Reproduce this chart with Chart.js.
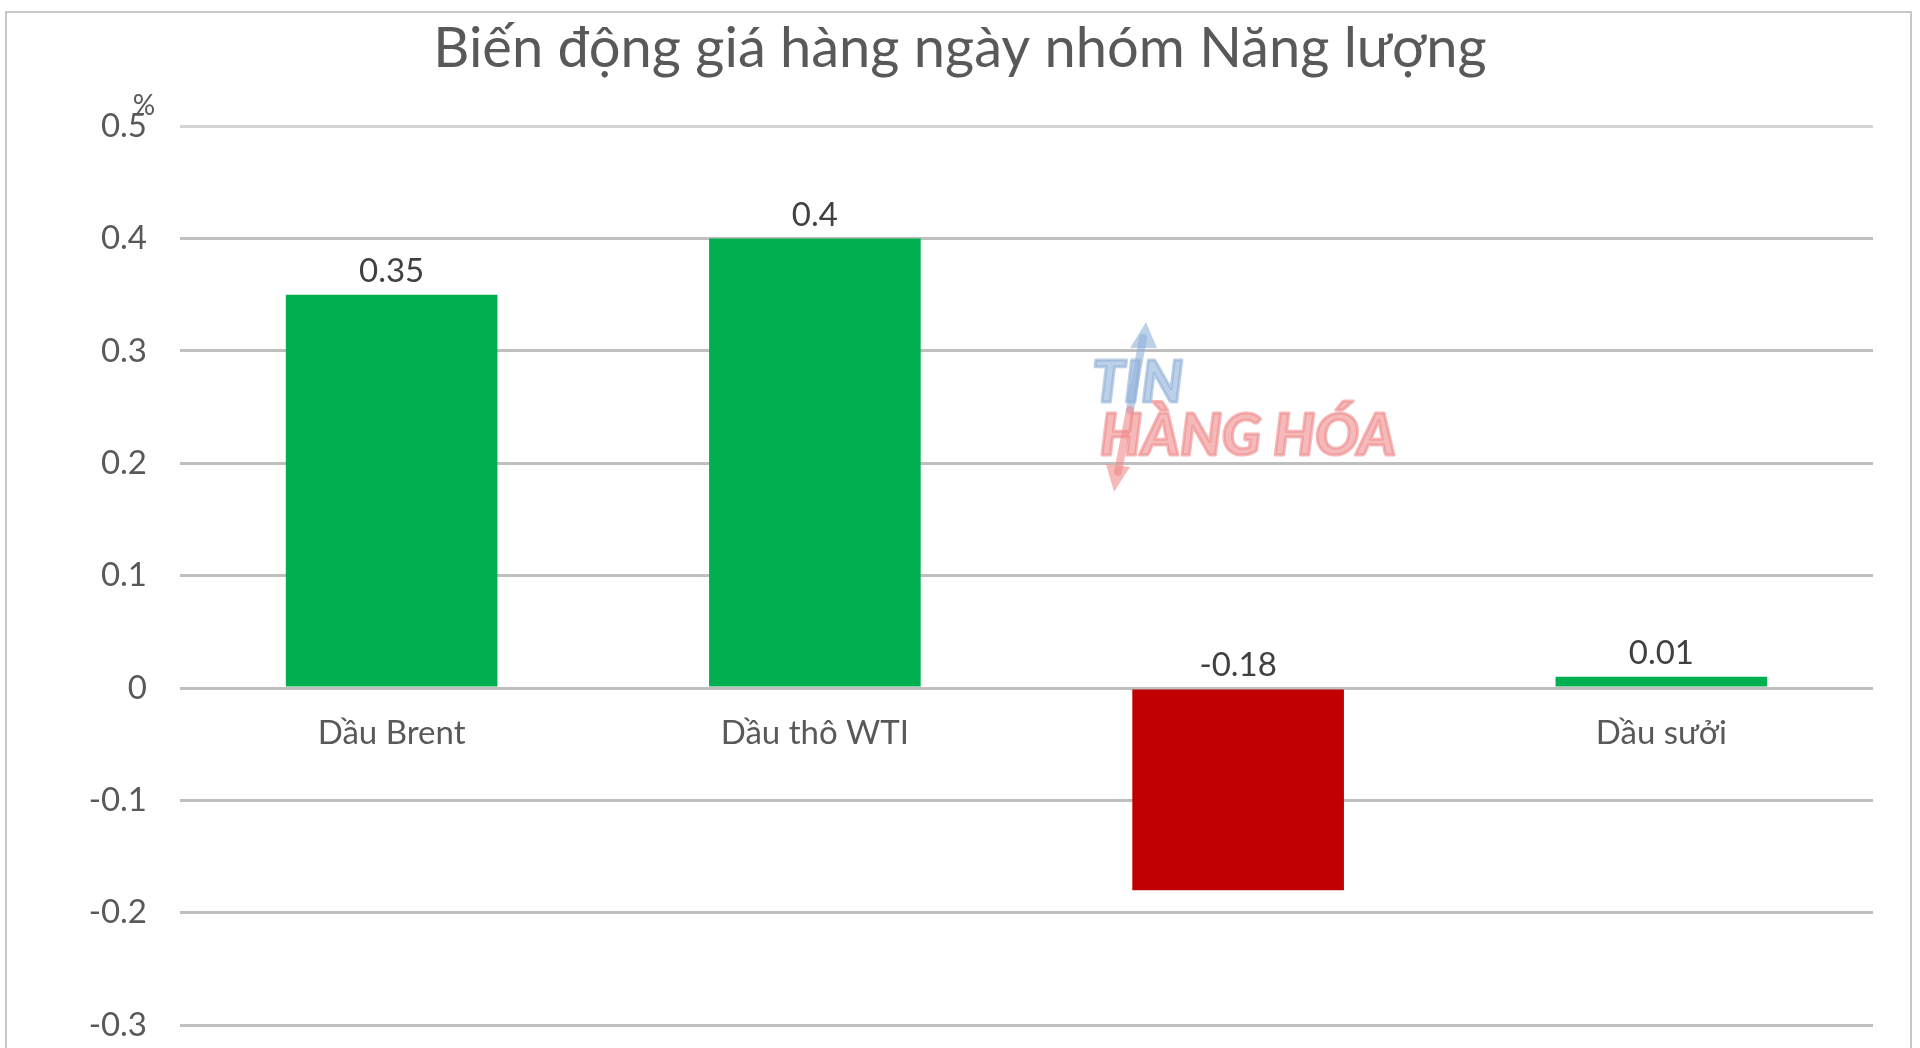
<!DOCTYPE html>
<html>
<head>
<meta charset="utf-8">
<script src="https://cdn.jsdelivr.net/npm/chart.js@4/dist/chart.umd.min.js"></script>
<style>
    html, body { margin: 0; padding: 0; background: #fff; overflow: hidden; }
    #frame { position: absolute; left: 5px; top: 11px; width: 1903px; height: 1100px; border: 2px solid #c8c8c8; }
    /* 원본처럼 차트 아래쪽이 화면 밖으로 잘리도록 높이를 조금 더 줌 */
    #wrap { position: absolute; left: 0; top: 0; width: 1920px; height: 1078px; }
</style>
</head>
<body>
<div id="frame"></div>
<div id="wrap"><canvas id="energyChart"></canvas></div>
<script>
// <====================== 데이터 ======================>
const chartTitle = 'Biến động giá hàng ngày nhóm Năng lượng';
const unitLabel = '%';
const categories = ['Dầu Brent', 'Dầu thô WTI', 'Khí tự nhiên', 'Dầu sưởi'];
const changeValues = [0.35, 0.4, -0.18, 0.01];
const yTicks = [-0.3, -0.2, -0.1, 0, 0.1, 0.2, 0.3, 0.4, 0.5];

const GREEN = '#00b050';
const RED = '#c00000';
const TEXT = '#595959';
const FONT = 'Lato, "Open Sans", sans-serif';

// 막대 위 숫자 라벨 + % 단위 + 워터마크
const labelPlugin = {
    id: 'barLabels',
    afterDatasetsDraw(chart) {
        const ctx = chart.ctx;
        const meta = chart.getDatasetMeta(0);
        const yScale = chart.scales.y;
        const zeroY = yScale.getPixelForValue(0);
        ctx.save();
        ctx.font = '33px ' + FONT;
        ctx.fillStyle = '#404040';
        ctx.textAlign = 'center';
        ctx.textBaseline = 'middle';
        meta.data.forEach(function(bar, i) {
            const v = changeValues[i];
            const top = v >= 0 ? bar.y : zeroY;
            ctx.fillText(String(v), bar.x, top - 23);
        });

        // 단위 표시
        ctx.font = '28px ' + FONT;
        ctx.fillStyle = TEXT;
        ctx.fillText(unitLabel, yScale.right - 36, yScale.getPixelForValue(0.5) - 20);
        ctx.restore();
    },
    beforeDatasetsDraw(chart) {
        // 워터마크 (장식)
        const ctx = chart.ctx;
        ctx.save();
        ctx.globalAlpha = 0.6;
        ctx.lineCap = 'round';
        ctx.lineWidth = 8;
        ctx.strokeStyle = '#8fb0d8';
        ctx.fillStyle = '#8fb0d8';
        ctx.beginPath(); ctx.moveTo(1130, 410); ctx.lineTo(1143, 338); ctx.stroke();
        ctx.beginPath(); ctx.moveTo(1146, 322); ctx.lineTo(1130, 348); ctx.lineTo(1157, 348); ctx.closePath(); ctx.fill();
        ctx.strokeStyle = '#f08a8a';
        ctx.fillStyle = '#f08a8a';
        ctx.beginPath(); ctx.moveTo(1130, 410); ctx.lineTo(1118, 472); ctx.stroke();
        ctx.beginPath(); ctx.moveTo(1114, 492); ctx.lineTo(1106, 464); ctx.lineTo(1130, 467); ctx.closePath(); ctx.fill();
        ctx.font = 'italic 900 58px ' + FONT;
        ctx.textAlign = 'left';
        ctx.textBaseline = 'alphabetic';
        ctx.lineWidth = 3;
        ctx.lineJoin = 'round';
        ctx.fillStyle = '#8fb0d8';
        ctx.strokeStyle = '#8fb0d8';
        ctx.fillText('TIN', 1092, 402);
        ctx.strokeText('TIN', 1092, 402);
        ctx.fillStyle = '#f08a8a';
        ctx.strokeStyle = '#f08a8a';
        ctx.fillText('HÀNG HÓA', 1100, 455);
        ctx.strokeText('HÀNG HÓA', 1100, 455);
        ctx.restore();
    }
};

const ctx = document.getElementById('energyChart').getContext('2d');
window.energyChart = new Chart(ctx, {
    type: 'bar',
    data: {
        labels: categories,
        datasets: [{
            data: changeValues,
            backgroundColor: changeValues.map(v => v < 0 ? RED : GREEN),
            barPercentage: 0.5,
            categoryPercentage: 1.0
        }]
    },
    options: {
        responsive: true,
        maintainAspectRatio: false,
        animation: false,
        layout: { padding: { left: 47, right: 47, top: 0, bottom: 24 } },
        plugins: {
            legend: { display: false },
            tooltip: { enabled: false },
            title: {
                display: true,
                text: chartTitle,
                color: TEXT,
                font: { family: FONT, size: 56, weight: 'normal' },
                padding: { top: 15, bottom: 44 }
            }
        },
        scales: {
            x: {
                position: { y: 0 },
                afterFit(scale) { scale.height = 0; },
                grid: { display: false, drawTicks: false },
                border: { display: false },
                ticks: {
                    color: TEXT,
                    font: { family: FONT, size: 33 },
                    padding: 25
                }
            },
            y: {
                min: -0.3,
                max: 0.5,
                afterBuildTicks(scale) {
                    scale.ticks = yTicks.map(v => ({ value: v }));
                },
                afterFit(scale) { scale.width = 133; },
                grid: {
                    color: ctx => ctx.tick && ctx.tick.value === 0.5 ? '#d4d4d4' : '#bfbfbf',
                    lineWidth: 3,
                    drawTicks: false
                },
                border: { display: false },
                ticks: {
                    color: TEXT,
                    font: { family: FONT, size: 33 },
                    padding: 33,
                    callback: v => String(Math.round(v * 10) / 10)
                }
            }
        }
    },
    plugins: [labelPlugin]
});
</script>
</body>
</html>
